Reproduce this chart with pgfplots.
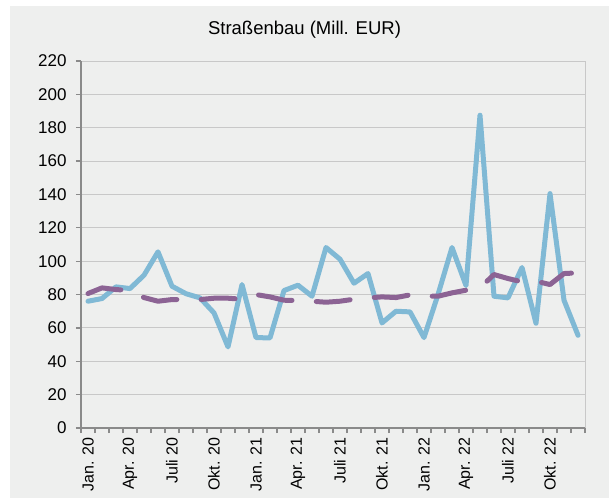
\documentclass[border=0pt]{standalone}
\usepackage{pgfplots}
\pgfplotsset{compat=1.18}
\usepackage{fontspec}
\setmainfont{Liberation Sans}
\definecolor{bgc}{HTML}{EEEFEE}
\definecolor{blueL}{HTML}{80B9D5}
\definecolor{purp}{HTML}{8C6394}
\definecolor{axc}{HTML}{8A8A8A}
\definecolor{gridc}{HTML}{C8C8C8}
\begin{document}
\begin{tikzpicture}
\useasboundingbox (-81pt,-70pt) rectangle (528pt,428pt);
\fill[bgc] (-71pt,-70pt) rectangle (528pt,422pt);
\node[font=\fontsize{18.5}{20}\selectfont] at (223.5pt,398pt) {Straßenbau (Mill. EUR)};
\begin{axis}[
  scale only axis, width=504pt, height=367pt,
  xmin=0, xmax=36, ymin=0, ymax=220,
  axis lines=left, axis line style={-, axc, line width=1.4pt},
  ytick={0,20,...,220},
  xtick={0.5,3.5,...,35.5},
  xticklabels={Jan. 20,Apr. 20,Juli 20,Okt. 20,Jan. 21,Apr. 21,Juli 21,Okt. 21,Jan. 22,Apr. 22,Juli 22,Okt. 22},
  minor xtick={0,1,...,36},
  major x tick style={draw=none},
  minor x tick style={axc, line width=1.2pt},
  y tick style={axc, line width=1.2pt},
  tick align=outside,
  major tick length=5pt, minor tick length=5pt,
  ymajorgrids, grid style={gridc, line width=1pt},
  /pgf/number format/assume math mode=true,
  yticklabel style={font=\fontsize{17}{17}\selectfont, xshift=-6pt},
  xticklabel style={font=\fontsize{16}{16}\selectfont, rotate=90, anchor=east, yshift=0pt, xshift=-1pt},
  clip=false,
]
\addplot[blueL, line width=5pt, line join=round, line cap=round] coordinates {
(0.5,76) (1.5,77.6) (2.5,84.6) (3.5,83.6) (4.5,91.6) (5.5,105.6) (6.5,85) (7.5,80.5) (8.5,78) (9.5,69) (10.5,48.6) (11.5,86)
(12.5,54.2) (13.5,54) (14.5,82.4) (15.5,85.6) (16.5,79) (17.5,108.2) (18.5,101.2) (19.5,86.8) (20.5,92.6) (21.5,63) (22.5,70) (23.5,69.6)
(24.5,54.2) (25.5,80) (26.5,108.2) (27.5,85.4) (28.5,187.5) (29.5,79) (30.5,78) (31.5,96.2) (32.5,62.8) (33.5,140.5) (34.5,76.6) (35.5,55.6)
};
\addplot[purp, line width=5pt, line join=round, line cap=round, dash pattern=on 34pt off 24.3pt] coordinates {
(0.5,80.6) (1.5,84) (2.5,83) (3.5,82.4) (4.5,78.2) (5.5,76) (6.5,77) (7.5,77) (8.5,77) (9.5,77.8) (10.5,77.8) (11.5,77.2)
(12.5,80) (13.5,78.6) (14.5,76.6) (15.5,76.4) (16.5,76) (17.5,75.4) (18.5,76) (19.5,77.2) (20.5,78) (21.5,78.6) (22.5,78.2) (23.5,79.8)
(24.5,79) (25.5,79) (26.5,81) (27.5,82.6) (28.5,84) (29.5,92) (30.5,89.6) (31.5,87.6) (32.5,88) (33.5,86) (34.5,92.6) (35.5,93)
};
\draw[gridc, line width=1pt] (rel axis cs:1,0) -- (rel axis cs:1,1);
\end{axis}
\end{tikzpicture}
\end{document}
